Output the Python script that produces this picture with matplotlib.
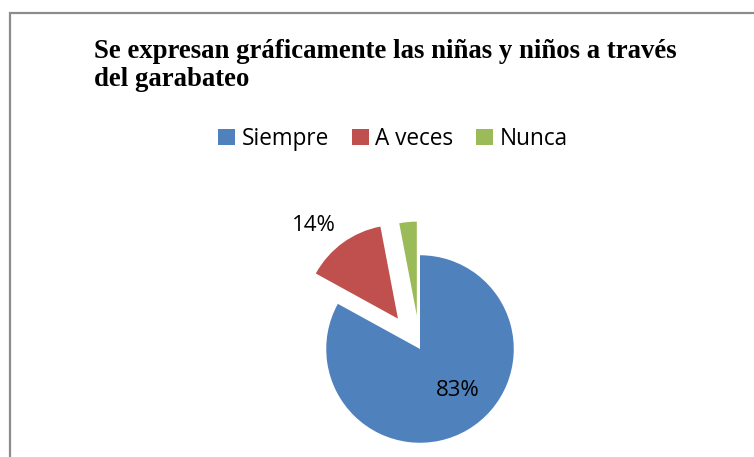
import matplotlib.pyplot as plt
from matplotlib.patches import Rectangle

# data
categories = ['Siempre', 'A veces', 'Nunca']
percent = [83, 14, 3]
show_label = [True, True, False]
colors = ['#4F81BD', '#C0504D', '#9BBB59']
explode = [0, 0.4, 0.36]

title = 'Se expresan gráficamente las niñas y niños a través\ndel garabateo'

W, H = 754, 457
fig = plt.figure(figsize=(W / 100, H / 100), dpi=100)

# chart frame (right and bottom edges fall outside the picture)
fig.patches.append(Rectangle((10 / W, -0.2), 1.2, 1.2 - 13 / H, transform=fig.transFigure,
                             fill=False, edgecolor='#8c8c8c', linewidth=1.6))

fig.text(94 / W, 1 - 39 / H, title, ha='left', va='top', fontsize=19.3,
         fontweight='bold', family='Liberation Serif', linespacing=1.17)

# pie: centre at (420, 349) px, radius ~94 px
side = 300
ax = fig.add_axes([(420 - side / 2) / W, (H - 349 - side / 2) / H, side / W, side / H])
wedges, _ = ax.pie(percent, colors=colors, explode=explode, startangle=90,
                   counterclock=False, radius=1.0,
                   wedgeprops=dict(linewidth=0))
ax.set_xlim(-1.6, 1.6)
ax.set_ylim(-1.6, 1.6)
ax.set_aspect('equal')
ax.axis('off')

label_pos = [(0.40, -0.44), (-1.13, 1.32), (0, 0)]
for p, show, (x, y) in zip(percent, show_label, label_pos):
    if show:
        ax.text(x, y, f'{p}%', ha='center', va='center', fontsize=16,
                family='Open Sans', color='black')

leg = fig.legend(wedges, categories, loc='center', bbox_to_anchor=(393 / W, 1 - 139 / H),
                 ncol=3, frameon=False, prop={'family': 'Open Sans', 'size': 16.3},
                 handlelength=0.75, handleheight=0.75, handletextpad=0.3,
                 columnspacing=1.0)

fig.savefig('out.png', dpi=100, facecolor='white')
